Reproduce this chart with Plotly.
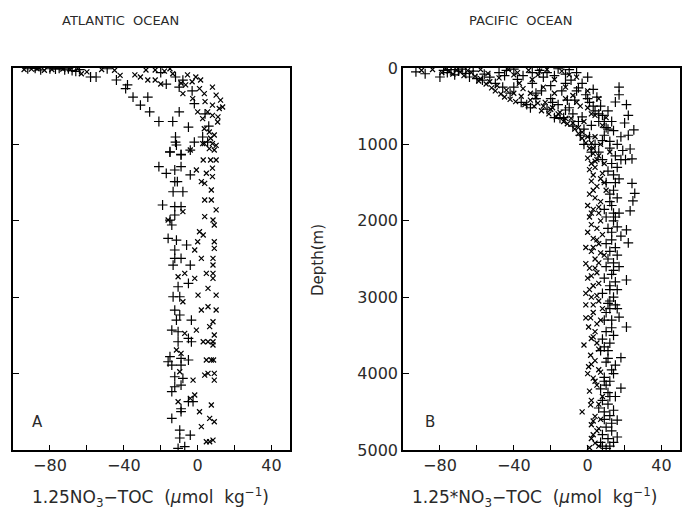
import plotly.graph_objects as go

# ---------------- DATA (value in umol/kg, depth in m) ----------------
atl_plus = [
    (-92, 10), (-88, 5), (-85, 25), (-80, 10), (-77, 15), (-75, 5), (-72, 25), (-70, 10), (-68, 35),
    (-66, 45), (-64, 20), (-58, 118), (-55, 118), (-49, 10), (-44, 157), (-38, 220), (-39, 270),
    (-35, 380), (-27, 380), (-31, 485), (-26, 575), (-21, 700), (-13.5, 700), (-10, 575), (-12, 118),
    (-10, 250), (-17, 210), (-1.8, 467), (-5, 775), (-12, 903), (-12, 970), (-15, 1100), (-9, 1130),
    (-4, 1075), (-1.8, 970), (2.7, 903), (5.4, 970), (-20, 60), (-8, 160), (-3, 300), (4, 600), (6, 760),
    (-11.5, 1008), (-15, 1096), (-9, 1139), (-21, 1292), (-17, 1378), (-12.4, 1335), (-9, 1292),
    (-4, 1400), (-12.4, 1488), (-11, 1488), (-13.3, 1620), (-8, 1620), (-19, 1793), (-12.4, 1815),
    (-9, 1815), (-12.4, 1924), (-15, 1990), (-14, 2055), (-16, 2230), (-11.5, 2252), (-6, 2317),
    (-12.4, 2382), (-12.4, 2491), (-9, 2491), (-13.3, 2579), (-4, 2579), (-10.6, 2863), (-5, 2819),
    (-13.3, 2994), (-9.7, 2994), (-12.4, 3168), (-9.7, 3233), (-11.5, 3299), (-3.4, 3299), (-14, 3430),
    (-10.6, 3452), (-5, 3539), (-10.6, 3583), (-3.4, 3583), (-15, 3779), (-16, 3845), (-14, 3888),
    (-9, 3888), (-9, 3800), (-5, 3822), (-12.4, 4041), (-8, 4063), (-12.4, 4172), (-9, 4150),
    (-14, 4237), (-5, 4368), (-2.5, 4368), (-9, 4499), (-9, 4460), (-14, 4586), (-9.7, 4739),
    (-9.7, 4843), (-10.6, 4978), (-7, 4957), (-4, 4804),
]
atl_x = [
    (-94, 20), (-90, 15), (-87, 10), (-83, 30), (-79, 20), (-73, 15), (-69, 20), (-65, 10), (-63, 75),
    (-60, 50), (-52, 20), (-45, 30), (-42, 96), (-34, 90), (-31, 118), (-28, 26), (-23, 26), (-27, 157),
    (-23, 157), (-20, 210), (-15, 10), (-13.5, 75), (-6.5, 220), (-5.5, 90), (-1, 118), (1.6, 157),
    (-8, 336), (-2.7, 400), (1, 270), (3.6, 336), (8, 250), (10, 355), (12.4, 420), (13.5, 510),
    (11.7, 530), (8, 485), (5.4, 575), (0, 575), (2.7, 663), (8, 620), (10.8, 707), (3.6, 795),
    (6.3, 838), (9, 877), (8, 990), (10, 1012), (6.3, 1056), (9, 1073), (3.6, 990), (2.7, 990),
    (-18, 40), (-9, 200), (-3, 180), (4, 440), (11, 640), (7, 920), (-4, 1073),
    (3, 1204), (7, 1204), (10, 1204), (-0.7, 1335), (4.7, 1378), (8, 1422), (8, 1310), (2, 1488),
    (3.8, 1510), (7.4, 1597), (3.8, 1728), (7.4, 1728), (-8, 1880), (10, 1858), (-16, 1990),
    (3.8, 1946), (8.3, 1990), (9, 2055), (1, 2143), (3, 2186), (0, 2274), (9, 2274), (9, 2360),
    (-1.6, 2382), (2, 2491), (8.3, 2491), (8.3, 2579), (-10.6, 2732), (-7, 2688), (-1.6, 2754),
    (4.7, 2688), (8.3, 2688), (8.3, 2754), (5.6, 2885), (0.2, 2972), (10, 2972), (-8, 3060), (2, 3168),
    (5.6, 3125), (10, 3168), (8.3, 3321), (-7, 3473), (-0.7, 3430), (6.5, 3386), (9, 3495), (3, 3583),
    (5.6, 3583), (8.3, 3583), (8.3, 3626), (-11.5, 3691), (-9, 3735), (4.7, 3822), (7.4, 3822),
    (8.6, 3822), (-9.7, 3976), (-2.5, 4085), (3.8, 4019), (5.6, 3997), (9, 3997), (9, 4085),
    (-1.6, 4280), (-4, 4324), (-10.6, 4368), (7.4, 4411), (1, 4499), (6.5, 4586), (9, 4630),
    (2, 4695), (4.7, 4892), (6.5, 4892), (8.3, 4870),
]
pac_plus = [
    (-93, 50), (-88, 75), (-80, 118), (-78, 30), (-76, 60), (-74, 20), (-72, 90), (-70, 40), (-68, 15),
    (-66, 70), (-64, 118), (-62, 40), (-60, 140), (-57, 160), (-56, 80), (-53, 120), (-50, 200),
    (-48, 60), (-46, 250), (-44, 30), (-42, 330), (-40, 15), (-38, 150), (-36, 450), (-33, 480),
    (-31, 520), (-30, 60), (-28, 400), (-26, 30), (-24, 120), (-22, 540), (-20, 230), (-18, 650),
    (-16, 10), (-15, 660), (-14, 300), (-13, 650), (-12, 80), (-11, 420), (-10, 20), (-9, 160),
    (-8, 760), (-7, 420), (-6, 60), (-5, 260), (-4, 880), (-3, 200), (-2, 1000), (-1, 350), (0, 120),
    (1, 450), (2, 1100), (3, 280), (4, 560), (5, 380), (6, 700), (7, 500), (8, 620), (9, 880), (10, 780),
    (11, 560), (12, 960), (13, 700), (14, 820), (15, 445), (16, 1000), (17, 250), (17, 350), (18, 900),
    (19, 1080), (20, 720), (21, 480), (22, 620), (22, 880), (23, 1060), (25, 810), (24, 1190),
    (15, 1150), (13, 1250), (16, 1300), (14, 1400), (18, 1200),
    (-35, 100), (-30, 200), (-25, 300), (-20, 400), (-16, 480), (-12, 550), (-8, 600), (-5, 700),
    (-2, 800), (1, 900), (4, 1000), (6, 1100), (-22, 60), (-18, 100), (-12, 200), (-6, 300), (0, 400),
    (3, 500), (6, 600), (9, 700), (11, 800), (12, 1050), (-45, 100), (-40, 250), (-28, 330), (-19, 450),
    (-10, 520), (-3, 640), (2, 750), (8, 950),
    (20.5, 1200), (24, 1510), (25.5, 1640), (24.5, 1740), (23, 1870), (17, 1450), (15, 1500), (14, 1600),
    (16, 1700), (13, 1800), (17, 1900), (15, 1950), (14, 2000), (16, 2080), (21, 2120), (22, 2290),
    (18, 2200), (13, 2250), (15, 2350), (12, 2400), (16, 2450), (14, 2550), (17, 2600), (21, 2775),
    (13, 2700), (15, 2800), (12, 2900), (14, 3000), (11, 3080), (16, 3150), (17, 3260), (21, 3390),
    (13, 3300), (10, 3450), (14, 3500), (12, 3600), (18, 3790), (11, 3700), (15, 3890), (13, 3950),
    (9, 4050), (12, 4100), (18, 4190), (11, 4250), (8, 4350), (14, 4480), (12, 4550), (16, 4610),
    (10, 4700), (13, 4750), (16, 4830), (14, 4900), (10, 4980), (8, 4800), (9, 4600), (11, 4400),
    (7, 4200), (10, 3850), (9, 3300), (10, 2600), (11, 2100), (12, 1650), (11, 1350), (9, 3650),
    (6, 4450), (7, 4900), (12, 3050), (8, 2950), (10, 2300), (14, 1900),
    (8, 1200), (10, 1500), (12, 1750), (9, 1850), (13, 2150), (11, 2500), (14, 2650), (9, 2750),
    (12, 2850), (15, 3100), (10, 3200), (13, 3400), (8, 3550), (11, 3800), (14, 4000), (10, 4150),
    (12, 4300), (9, 4500), (13, 4650), (11, 4850), (8, 4950), (15, 4300), (12, 3150), (16, 2900),
    (10, 1950), (7, 3700), (9, 4100), (12, 4950),
]
pac_x = [
    (-90, 30), (-84, 20), (-79, 60), (-77, 10), (-75, 40), (-73, 80), (-71, 25), (-69, 55), (-67, 100),
    (-65, 35), (-63, 60), (-61, 110), (-59, 170), (-58, 20), (-55, 210), (-54, 70), (-52, 260),
    (-50, 300), (-48, 130), (-47, 340), (-45, 380), (-43, 20), (-42, 410), (-40, 90), (-39, 440),
    (-37, 200), (-35, 270), (-34, 480), (-32, 30), (-31, 330), (-29, 500), (-28, 380), (-27, 90),
    (-25, 560), (-23, 450), (-22, 20), (-21, 600), (-19, 520), (-18, 150), (-17, 640), (-15, 580),
    (-14, 40), (-13, 700), (-12, 250), (-11, 730), (-9, 660), (-8, 360), (-7, 800), (-6, 120),
    (-5, 860), (-4, 500), (-3, 920), (-2, 700), (-1, 980), (0, 300), (1, 1050), (2, 600), (3, 1120),
    (4, 900), (5, 1200), (6, 400), (7, 1000), (8, 750), (10, 650), (12, 1100),
    (-58, 140), (-53, 180), (-49, 230), (-44, 290), (-40, 330), (-36, 370), (-31, 420), (-27, 460),
    (-24, 500), (-20, 540), (-16, 600), (-12, 660), (-8, 720), (-5, 780), (-3, 840), (0, 900), (2, 980),
    (3, 1050), (-30, 150), (-24, 250), (-18, 330), (-12, 400), (-6, 450), (0, 520), (4, 620), (-38, 60),
    (-26, 40), (-10, 90),
    (0, 1180), (2, 1250), (4, 1300), (6, 1150), (1, 1330), (3, 1400), (8, 1380), (2, 1480), (5, 1550),
    (9, 1500), (10, 1600), (1, 1650), (4, 1700), (7, 1750), (0, 1800), (3, 1850), (6, 1900), (1, 1950),
    (2, 2050), (5, 2100), (0, 2150), (8, 2180), (3, 2230), (6, 2300), (-1, 2350), (2, 2400), (9, 2450),
    (4, 2500), (-1, 2560), (1, 2620), (5, 2680), (0, 2750), (3, 2850), (-1, 2950), (2, 3000), (6, 3050),
    (-1, 3270), (1.6, 3270), (0.5, 3390), (4, 3450), (2, 3540), (-2, 3626), (6, 3680), (1.6, 3760),
    (4, 3830), (0.5, 3910), (7, 3980), (3, 4060), (5, 4150), (1, 4230), (8, 4300), (1.6, 4410),
    (-3, 4500), (4, 4560), (2, 4670), (6, 4720), (3, 4800), (4, 4910), (1, 4970), (7, 4600), (5, 3350),
    (8, 3150), (3, 3200), (6, 2550), (7, 2000), (9, 1250),
    (4, 1220), (7, 1450), (3, 1600), (6, 1820), (2, 1900), (5, 2250), (3, 2350), (7, 2420), (4, 2620),
    (2, 2720), (6, 2820), (1, 2900), (5, 2980), (3, 3100), (7, 3300), (3, 3520), (5, 3600), (2, 3880),
    (6, 3950), (4, 4100), (2, 4350), (6, 4400), (3, 4620), (5, 4750), (2, 4850), (6, 4950), (-1, 3100),
    (0, 4000),
]
x_tickvals = [-80, -60, -40, -20, 0, 20, 40]
x_ticktext = ["\u221280", "", "\u221240", "", "0", "", "40"]
y_tickvals = [0, 1000, 2000, 3000, 4000, 5000]
y_ticktext = ["0", "1000", "2000", "3000", "4000", "5000"]

# ---------------- FIGURE ----------------
FONT = "DejaVu Sans"
TXT = "#2a2a2a"
fig = go.Figure()


def add(series, sym, size, xa, ya):
    fig.add_trace(go.Scatter(
        x=[p[0] for p in series], y=[p[1] for p in series], mode="markers",
        marker=dict(symbol=sym, size=size, color="black", line=dict(color="black", width=1.2)),
        xaxis=xa, yaxis=ya, showlegend=False, hoverinfo="skip"))


add(atl_plus, "cross-thin-open", 7, "x", "y")
add(atl_x, "x-thin-open", 5, "x", "y")
add(pac_plus, "cross-thin-open", 7, "x2", "y2")
add(pac_x, "x-thin-open", 5, "x2", "y2")

W, H = 691, 511
common_x = dict(range=[-100, 50], tickvals=x_tickvals, ticktext=x_ticktext, ticks="inside",
                ticklen=5, tickcolor="black", showline=True, linecolor="black", linewidth=1.5,
                mirror=True, showgrid=False, zeroline=False, automargin=False,
                tickfont=dict(family=FONT, size=16, color=TXT))
common_y = dict(range=[5000, 0], tickvals=y_tickvals, ticks="inside", ticklen=6, tickcolor="black",
                showline=True, linecolor="black", linewidth=1.5, mirror=True, showgrid=False,
                zeroline=False, automargin=False, tickfont=dict(family=FONT, size=16, color=TXT))

fig.update_layout(
    width=W, height=H, paper_bgcolor="white", plot_bgcolor="white",
    margin=dict(l=0, r=0, t=0, b=0, pad=0, autoexpand=False),
    xaxis=dict(domain=[13 / W, 290 / W], anchor="y", **common_x),
    yaxis=dict(domain=[61 / H, 443 / H], anchor="x", showticklabels=False, **common_y),
    xaxis2=dict(domain=[403 / W, 680 / W], anchor="y2", **common_x),
    yaxis2=dict(domain=[61 / H, 443 / H], anchor="x2", ticktext=y_ticktext, **common_y),
)


def note(text, px, py, size, **kw):
    fig.add_annotation(text=text, x=px / W, y=1 - py / H, xref="paper", yref="paper",
                       xanchor="center", yanchor="middle", showarrow=False,
                       font=dict(family=FONT, size=size, color=TXT), **kw)


note("ATLANTIC  OCEAN", 120, 20, 13)
note("PACIFIC  OCEAN", 520, 20, 13)
note("A", 37, 422, 15)
note("B", 430, 422, 15)
note("1.25NO<sub>3</sub>\u2212TOC  (<i>\u03bc</i>mol  kg<sup>\u22121</sup>)", 150, 497, 17)
note("1.25*NO<sub>3</sub>\u2212TOC  (<i>\u03bc</i>mol  kg<sup>\u22121</sup>)", 535, 497, 17)
note("Depth(m)", 318, 260, 15, textangle=-90)

post = ("document.documentElement.style.margin='0';document.body.style.margin='0';"
        "document.documentElement.style.overflow='hidden';document.body.style.overflow='hidden';"
        "var d=document.getElementById('{plot_id}');d.style.position='fixed';"
        "d.style.top='0px';d.style.left='0px';")
fig.write_html("out.html", config={"displayModeBar": False}, post_script=post)
